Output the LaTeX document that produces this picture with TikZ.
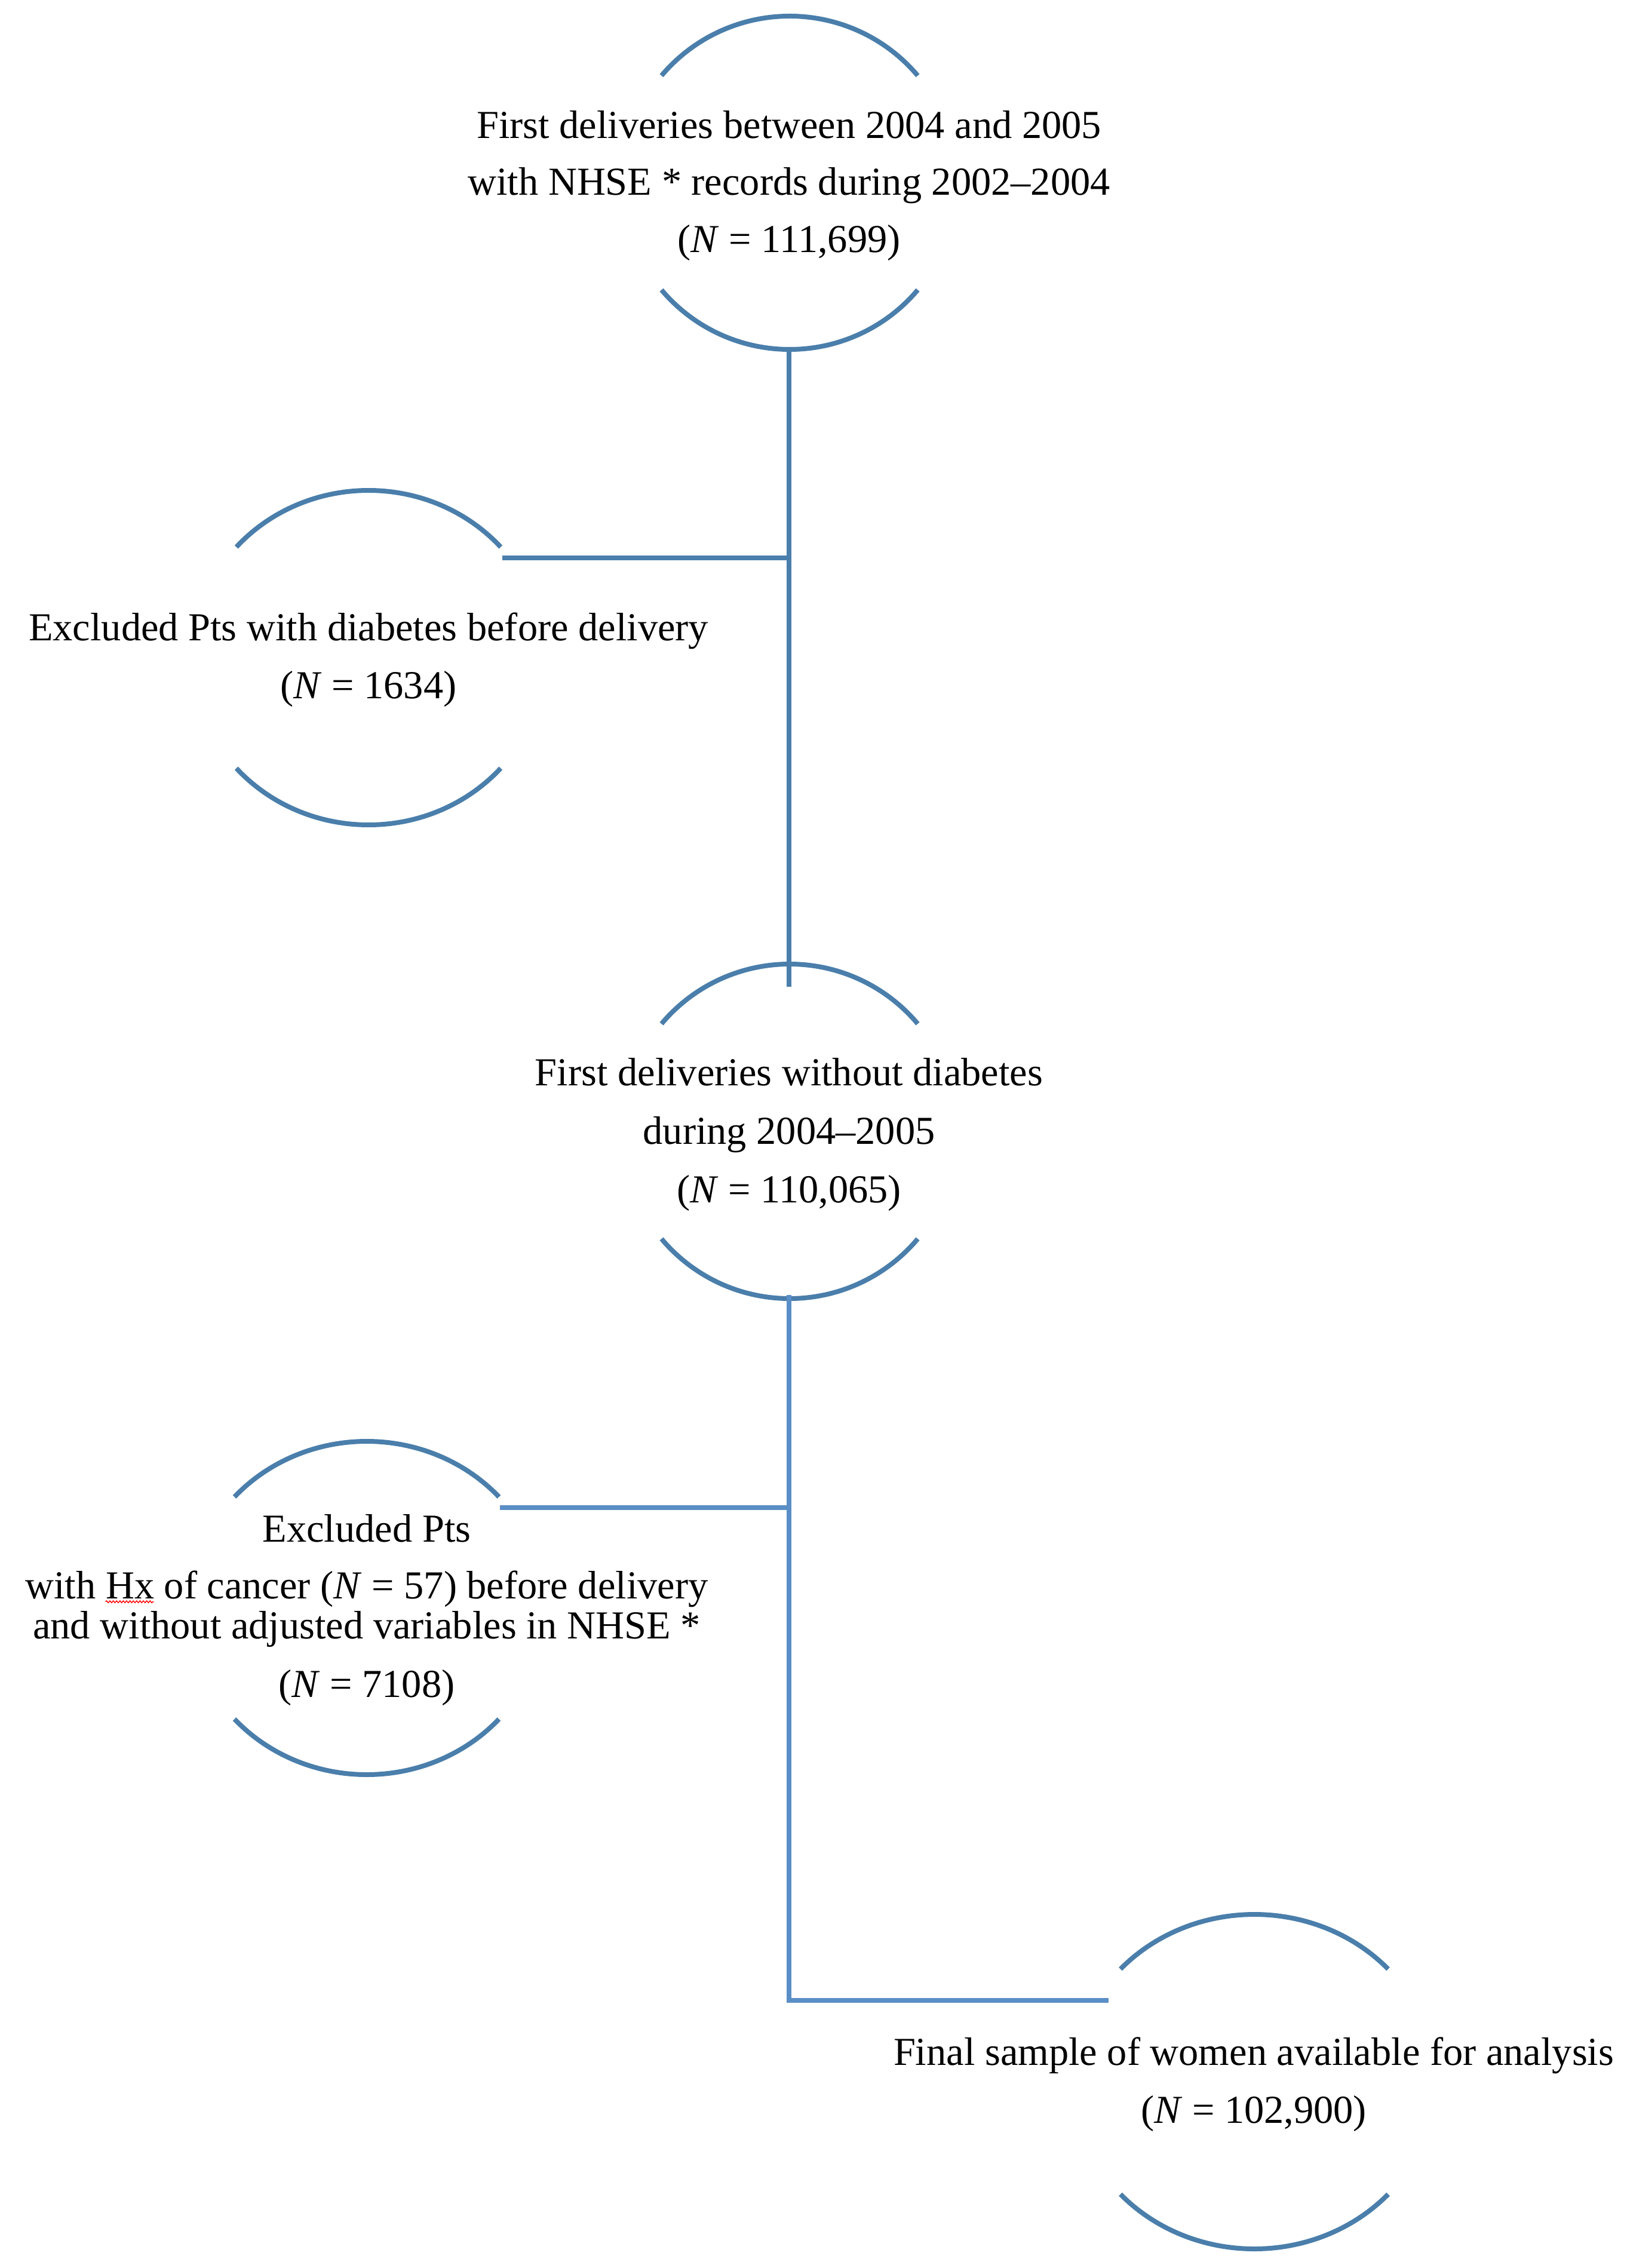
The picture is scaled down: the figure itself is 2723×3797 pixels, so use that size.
\documentclass[tikz,border=0pt]{standalone}
\usepackage{fontspec}
\setmainfont{Liberation Serif}
\usetikzlibrary{calc,decorations.pathmorphing}
\definecolor{arcblue}{HTML}{4A7EAB}
\definecolor{lineblue}{HTML}{5A8EC6}
\newcommand\capsarcs[4]{%
  \draw[arcline] ([shift={(180-#4:#2 and #3)}]#1) arc[start angle=180-#4, end angle=#4, x radius=#2, y radius=#3];
  \draw[arcline] ([shift={(180+#4:#2 and #3)}]#1) arc[start angle=180+#4, end angle=360-#4, x radius=#2, y radius=#3];}
\begin{document}
\begin{tikzpicture}[x=0.25pt,y=0.25pt,
  arcline/.style={draw=arcblue,line width=2pt},
  conn/.style={draw=arcblue,line width=2pt},
  conn2/.style={draw=lineblue,line width=2pt,line join=miter},
  txt/.style={font=\fontsize{16.6}{24}\selectfont,inner sep=0pt,anchor=base,text=black},
  squiggle/.style={draw=red,line width=0.35pt,decorate,decoration={snake,amplitude=0.4pt,segment length=1.4pt}}]
\fill[white] (0,0) rectangle (2723,-3797);
\useasboundingbox (0,0) rectangle (2723,-3797);

% group centres
\coordinate (c1) at (1322,-306);
\coordinate (c3) at (617,-1101);
\coordinate (c2) at (1322,-1894);
\coordinate (c4) at (614,-2692);
\coordinate (c5) at (2100,-3485);

\capsarcs{c1}{280}{279}{40}
\capsarcs{c3}{295}{280}{41.4}
\capsarcs{c2}{280}{280}{40}
\capsarcs{c4}{297}{279}{41.8}
\capsarcs{c5}{303}{280}{42.3}

% texts
\node[txt] (t1a) at (1321,-231.5) {First deliveries between 2004 and 2005};
\node[txt] (t1b) at (1321,-327) {with NHSE * records during 2002–2004};
\node[txt] (t1c) at (1321,-423) {(\textit{N} = 111,699)};

\node[txt] (t3a) at (617,-1072.6) {Excluded Pts with diabetes before delivery};
\node[txt] (t3b) at (617,-1169.5) {(\textit{N} = 1634)};

\node[txt] (t2a) at (1321,-1817) {First deliveries without diabetes};
\node[txt] (t2b) at (1321,-1915) {during 2004–2005};
\node[txt] (t2c) at (1321,-2013) {(\textit{N} = 110,065)};

\node[txt] (t4a) at (614,-2581) {Excluded Pts};
\node[txt] (t4b) at (614,-2676.6) {with Hx of cancer (\textit{N} = 57) before delivery};
\node[txt] (t4c) at (614,-2743.6) {and without adjusted variables in NHSE *};
\node[txt] (t4d) at (614,-2841) {(\textit{N} = 7108)};

\node[txt] (t5a) at (2099,-3457.5) {Final sample of women available for analysis};
\node[txt] (t5b) at (2099,-3554.5) {(\textit{N} = 102,900)};

\draw[squiggle] ($(t4b.base west)+(135,-5)$) -- ($(t4b.base west)+(216,-5)$);

% connectors
\coordinate (c1s) at (1321,-585);
\coordinate (c2n) at (1321,-1652);
\coordinate (j1) at (1321,-934);
\coordinate (c3e) at (841,-934);
\draw[conn] (c1s) -- (c2n);
\draw[conn] (c3e) -- (j1);

\coordinate (c2s) at (1321,-2168);
\coordinate (j2) at (1321,-2523.5);
\coordinate (c4e) at (837,-2523.5);
\coordinate (c5w) at (1856,-3349);
\draw[conn2] (c2s) |- (c5w);
\draw[conn2] (c4e) -- (j2);
\end{tikzpicture}
\end{document}
